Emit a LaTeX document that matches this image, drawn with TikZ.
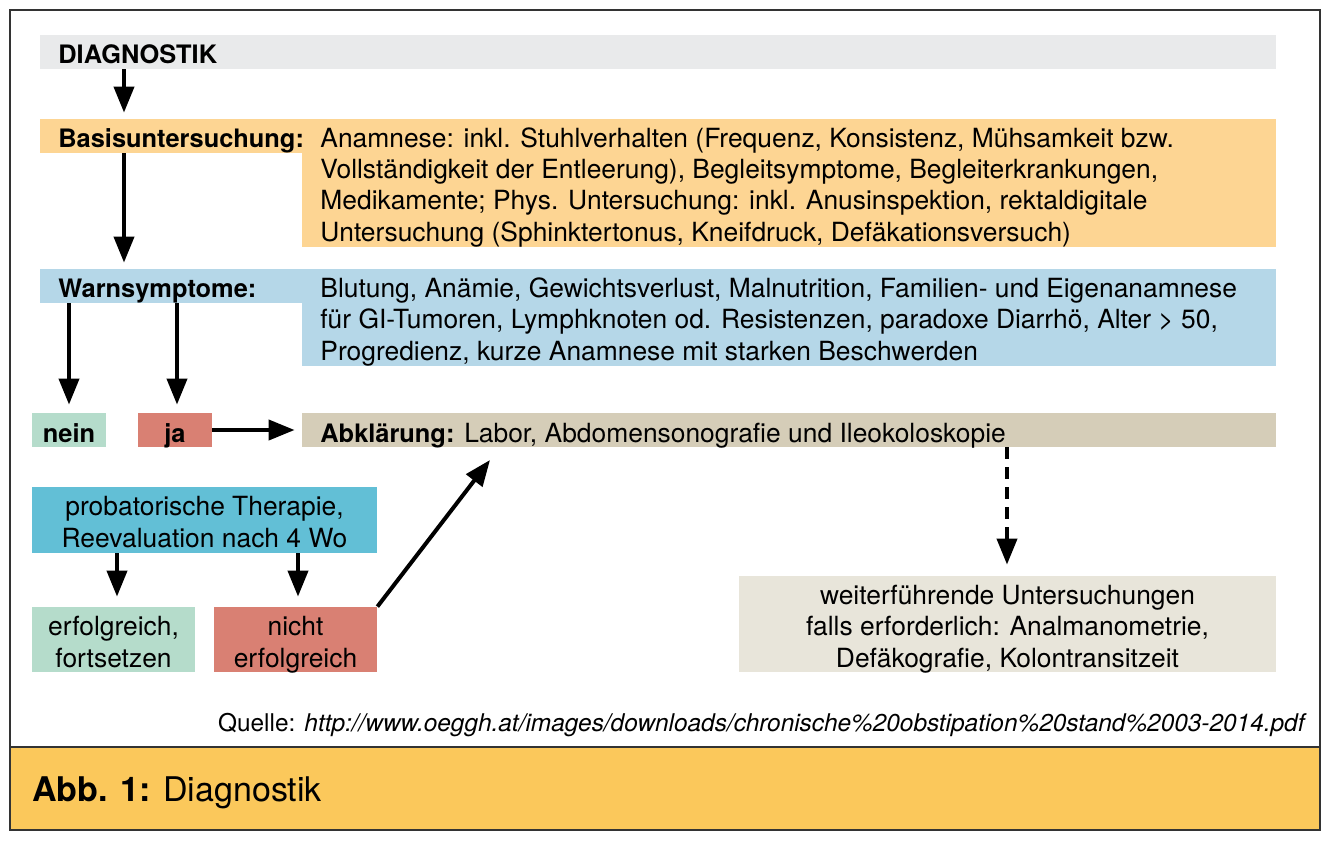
\documentclass[tikz,border=0pt]{standalone}
\usepackage{fontspec}
\setmainfont{TeX Gyre Heros}
\usetikzlibrary{arrows.meta,calc}
\definecolor{cdiag}{HTML}{E9EAEB}
\definecolor{cbasis}{HTML}{FDD593}
\definecolor{cwarn}{HTML}{B5D7E8}
\definecolor{cgreen}{HTML}{B5DCCB}
\definecolor{cred}{HTML}{D98073}
\definecolor{cabkl}{HTML}{D5CDB8}
\definecolor{cprob}{HTML}{62BFD6}
\definecolor{cweiter}{HTML}{E8E5DA}
\definecolor{ccap}{HTML}{FBC85B}
\definecolor{cframe}{HTML}{333333}
\tikzset{
  box/.style={rectangle, inner sep=0pt, draw=none},
  txt/.style={inner sep=0pt, anchor=base west, font=\fontsize{13.2}{15.5}\selectfont},
  btxt/.style={inner sep=0pt, anchor=base west, font=\fontsize{12.7}{15.5}\selectfont\bfseries},
  ctxt/.style={inner sep=0pt, anchor=base, font=\fontsize{13.2}{15.5}\selectfont},
  cbtxt/.style={inner sep=0pt, anchor=base, font=\fontsize{12.7}{15.5}\selectfont\bfseries},
  arr/.style={line width=2pt, -{Triangle[width=10pt,length=13pt]}},
  darr/.style={arr, dash pattern=on 6pt off 4pt},
}
\begin{document}
\begin{tikzpicture}[x=0.5pt,y=-0.5pt]
\useasboundingbox (0,0) rectangle (1328,841);
% frame and caption
\fill[ccap] (10,747) rectangle (1320,830);
\draw[cframe, line width=0.8pt] (10,10) rectangle (1320,830);
\draw[cframe, line width=0.8pt] (10,747) -- (1320,747);
% boxes
\node[box, fill=cdiag, minimum width=618pt, minimum height=17pt] (diag) at (658,52) {};
\node[box, fill=cbasis, minimum width=131pt, minimum height=17pt] (basisL) at (171,136) {};
\node[box, fill=cbasis, minimum width=487pt, minimum height=64pt] (basisR) at (789,183) {};
\node[box, fill=cwarn, minimum width=131pt, minimum height=17pt] (warnL) at (171,286) {};
\node[box, fill=cwarn, minimum width=487pt, minimum height=48.5pt] (warnR) at (789,317.5) {};
\node[box, fill=cgreen, minimum width=37pt, minimum height=17pt] (nein) at (69,430) {};
\node[box, fill=cred, minimum width=37pt, minimum height=17pt] (ja) at (175,430) {};
\node[box, fill=cabkl, minimum width=487pt, minimum height=17pt] (abkl) at (789,430) {};
\node[box, fill=cprob, minimum width=172.5pt, minimum height=33pt] (prob) at (204.5,520) {};
\node[box, fill=cgreen, minimum width=81.5pt, minimum height=32.5pt] (erf) at (113.5,639.5) {};
\node[box, fill=cred, minimum width=81.5pt, minimum height=32.5pt] (nicht) at (295.5,639.5) {};
\node[box, fill=cweiter, minimum width=268.5pt, minimum height=48pt] (weiter) at (1007.5,624) {};
% texts
\node[btxt] (tdiag) at (58,63) {DIAGNOSTIK};
\node[btxt] (tbasis) at (58,147) {Basisuntersuchung:};
\node[txt] (tb1) at (320,147) {Anamnese: inkl. Stuhlverhalten (Frequenz, Konsistenz, Mühsamkeit bzw.};
\node[txt] (tb2) at (320,178) {Vollständigkeit der Entleerung), Begleitsymptome, Begleiterkrankungen,};
\node[txt] (tb3) at (320,209.5) {Medikamente; Phys. Untersuchung: inkl. Anusinspektion, rektaldigitale};
\node[txt] (tb4) at (320,241) {Untersuchung (Sphinktertonus, Kneifdruck, Defäkationsversuch)};
\node[btxt] (twarn) at (58,297) {Warnsymptome:};
\node[txt] (tw1) at (320,297) {Blutung, Anämie, Gewichtsverlust, Malnutrition, Familien- und Eigenanamnese};
\node[txt] (tw2) at (320,328.5) {für GI-Tumoren, Lymphknoten od. Resistenzen, paradoxe Diarrhö, Alter > 50,};
\node[txt] (tw3) at (320,360) {Progredienz, kurze Anamnese mit starken Beschwerden};
\node[cbtxt] (tnein) at (69,442) {nein};
\node[cbtxt] (tja) at (175,442) {ja};
\node[txt] (tabkl) at (320,442) {{\fontsize{12.7}{15.5}\selectfont\bfseries Abklärung:} Labor, Abdomensonografie und Ileokoloskopie};
\node[ctxt] (tp1) at (204.5,515) {probatorische Therapie,};
\node[ctxt] (tp2) at (204.5,547) {Reevaluation nach 4 Wo};
\node[ctxt] (te1) at (113.5,635) {erfolgreich,};
\node[ctxt] (te2) at (113.5,667) {fortsetzen};
\node[ctxt] (tn1) at (295.5,635) {nicht};
\node[ctxt] (tn2) at (295.5,667) {erfolgreich};
\node[ctxt] (twf1) at (1007.5,604) {weiterführende Untersuchungen};
\node[ctxt] (twf2) at (1007.5,635.5) {falls erforderlich: Analmanometrie,};
\node[ctxt] (twf3) at (1007.5,667) {Defäkografie, Kolontransitzeit};
\node[inner sep=0pt, anchor=base east, font=\fontsize{12.2}{13}\selectfont] (quelle) at (1307,731) {Quelle: \textit{http://www.oeggh.at/images/downloads/chronische\%20obstipation\%20stand\%2003-2014.pdf}};
\node[inner sep=0pt, anchor=base west, font=\fontsize{17}{21}\selectfont] (cap) at (32,801) {\textbf{Abb. 1:} Diagnostik};
% connector x positions
\coordinate (x124) at (124,0);
\coordinate (x69) at (69,0);
\coordinate (x177) at (177,0);
\coordinate (x117) at (117,0);
\coordinate (x298) at (298,0);
\coordinate (x1007) at (1007,0);
\coordinate (tipAbkl) at (490,460);
% connectors
\draw[arr, shorten >=3pt] (diag.south -| x124) -- (basisL.north -| x124);
\draw[arr, shorten >=3pt] (basisL.south -| x124) -- (warnL.north -| x124);
\draw[arr, shorten >=4pt] (warnL.south -| x69) -- (nein.north -| x69);
\draw[arr, shorten >=4pt] (warnL.south -| x177) -- (ja.north -| x177);
\draw[arr, shorten >=3.5pt] (ja.east) -- (abkl.west);
\draw[arr, shorten >=5pt] (prob.south -| x117) -- (erf.north -| x117);
\draw[arr, shorten >=5pt] (prob.south -| x298) -- (nicht.north -| x298);
\draw[arr] (nicht.north east) -- (tipAbkl);
\draw[darr, shorten >=5.5pt] (abkl.south -| x1007) -- (weiter.north -| x1007);
\end{tikzpicture}
\end{document}
